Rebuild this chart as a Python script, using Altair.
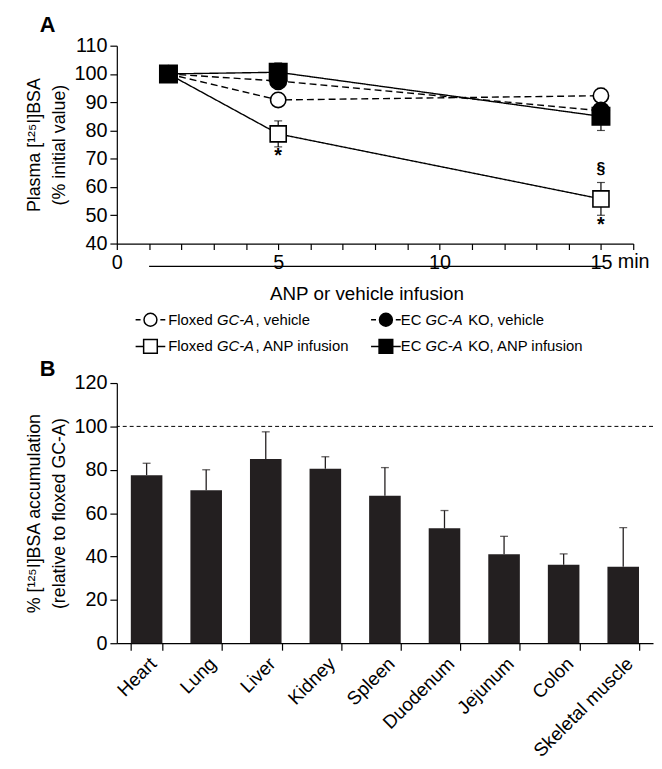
import altair as alt
import pandas as pd

# ---------------- Panel A data ----------------
times = [1.6, 5, 15]
group_names = ["Floxed GC-A, vehicle", "Floxed GC-A, ANP infusion",
               "EC GC-A KO, vehicle", "EC GC-A KO, ANP infusion"]
flox_vehicle = [100, 90.8, 92.3]
flox_vehicle_err = [0, 1.0, 2.6]
flox_anp = [100, 78.8, 55.8]
flox_anp_err = [0, 4.6, 5.8]
ko_vehicle = [100, 97.5, 87.0]
ko_vehicle_err = [0, 1.5, 2.0]
ko_anp = [100, 100.6, 85.0]
ko_anp_err = [0, 3.3, 5.0]

star_t = [5, 15]
star_v = [71.0, 46.5]
section_t = [15]
section_v = [66.5]

infusion_start = 1.0
infusion_end = 15.1
infusion_label = "ANP or vehicle infusion"
x_ticks = list(range(0, 17))
y_ticks_a = list(range(40, 111, 10))

# ---------------- Panel B data ----------------
organs = ["Heart", "Lung", "Liver", "Kidney", "Spleen", "Duodenum",
          "Jejunum", "Colon", "Skeletal muscle"]
accum = [77.5, 70.5, 85.0, 80.5, 68.0, 53.0, 41.0, 36.2, 35.3]
accum_err = [5.5, 9.5, 12.5, 5.5, 13.0, 8.2, 8.3, 5.0, 18.0]
y_ticks_b = list(range(0, 121, 20))

FONT = "Liberation Sans"
WA, HA = 522, 200
WB, HB = 542, 263
TICKFS = 20
TITLEFS = 18

# ---------------- build panel A ----------------
series = [flox_vehicle, flox_anp, ko_vehicle, ko_anp]
errs = [flox_vehicle_err, flox_anp_err, ko_vehicle_err, ko_anp_err]
rows = []
for g, vals, es in zip(group_names, series, errs):
    for t, v, e in zip(times, vals, es):
        rows.append({"group": g, "t": t, "v": v, "lo": v - e, "hi": v + e, "e": e})
dfA = pd.DataFrame(rows)

axis_x_a = alt.Axis(values=x_ticks, title=None, tickSize=6, labelOverlap=False,
                    labelExpr="datum.value % 5 == 0 ? datum.label : ''",
                    labelPadding=3, labelFlush=False)
axis_y_a = alt.Axis(values=y_ticks_a, tickSize=7, labelPadding=3, titlePadding=6,
                    labelOverlap=False, titleLineHeight=25,
                    title=["Plasma [\u00b9\u00b2\u2075I]BSA", "(% initial value)"])
sx = alt.Scale(domain=[0, 16], nice=False)
sy = alt.Scale(domain=[40, 110], nice=False, zero=False)

dash = alt.StrokeDash("group:N", legend=None,
                      scale=alt.Scale(domain=group_names,
                                      range=[[7, 4], [1, 0], [7, 4], [1, 0]]))
baseA = alt.Chart(dfA)
lines = baseA.mark_line(color="black", strokeWidth=1.4).encode(
    x=alt.X("t:Q", scale=sx, axis=axis_x_a),
    y=alt.Y("v:Q", scale=sy, axis=axis_y_a),
    strokeDash=dash, detail="group:N")

errA = baseA.transform_filter("datum.e > 0")
err_rules = errA.mark_rule(color="black", strokeWidth=1.2).encode(
    x=alt.X("t:Q", axis=axis_x_a), y=alt.Y("lo:Q", axis=axis_y_a), y2="hi:Q")
err_caps = errA.transform_fold(["lo", "hi"], as_=["end", "ev"]).mark_tick(
    color="black", thickness=1.2, size=8, orient="horizontal").encode(
    x=alt.X("t:Q", axis=axis_x_a), y=alt.Y("ev:Q", axis=axis_y_a))

points = baseA.mark_point(stroke="black", strokeWidth=1.6, opacity=1, fillOpacity=1).encode(
    x=alt.X("t:Q", axis=axis_x_a), y=alt.Y("v:Q", axis=axis_y_a),
    shape=alt.Shape("group:N", legend=None,
                    scale=alt.Scale(domain=group_names,
                                    range=["circle", "square", "circle", "square"])),
    fill=alt.Fill("group:N", legend=None,
                  scale=alt.Scale(domain=group_names,
                                  range=["white", "white", "black", "black"])),
    size=alt.Size("group:N", legend=None,
                  scale=alt.Scale(domain=group_names, range=[240, 310, 240, 310])),
)

stars = alt.Chart(pd.DataFrame({"t": star_t, "v": star_v})).mark_text(
    text="*", font=FONT, fontSize=20, fontWeight="bold", baseline="middle").encode(
    x=alt.X("t:Q", axis=axis_x_a), y=alt.Y("v:Q", axis=axis_y_a))
section = alt.Chart(pd.DataFrame({"t": section_t, "v": section_v})).mark_text(
    text="\u00a7", font=FONT, fontSize=16, fontWeight="bold", baseline="middle").encode(
    x=alt.X("t:Q", axis=axis_x_a), y=alt.Y("v:Q", axis=axis_y_a))

one = pd.DataFrame({"k": [0]})
min_text = alt.Chart(pd.DataFrame({"t": [15]})).mark_text(
    text="min", font=FONT, fontSize=TICKFS, align="left", baseline="top", dx=17).encode(
    x=alt.X("t:Q", axis=axis_x_a), y=alt.value(HA + 9))
inf_line = alt.Chart(pd.DataFrame({"a": [infusion_start], "b": [infusion_end]})).mark_rule(
    color="black", strokeWidth=1.2).encode(
    x=alt.X("a:Q", axis=axis_x_a), x2="b:Q", y=alt.value(HA + 23))
inf_text = alt.Chart(pd.DataFrame({"a": [(infusion_start + infusion_end) / 2 - 0.3]})).mark_text(
    text=infusion_label, font=FONT, fontSize=19, baseline="middle").encode(
    x=alt.X("a:Q", axis=axis_x_a), y=alt.value(HA + 51))
label_A = alt.Chart(one).mark_text(text="A", font=FONT, fontSize=22, fontWeight="bold",
                                   baseline="middle").encode(x=alt.value(-70), y=alt.value(-21))

# manual legend with italic gene names
CW = {" ": 278, "F": 611, "l": 222, "o": 556, "x": 500, "e": 556, "d": 556, "G": 778,
      "C": 722, "-": 333, "A": 667, ",": 278, "v": 500, "h": 556, "i": 222, "c": 500,
      "N": 722, "P": 667, "n": 556, "f": 278, "u": 556, "s": 500, "E": 667, "K": 667,
      "O": 778}
LFS = 15


def tw(s):
    return sum(CW.get(ch, 556) for ch in s) / 1000 * LFS


legend_specs = [
    (34, HA + 77, 18, "circle", "white", True, [("Floxed ", False), ("GC-A", True), (", vehicle", False)]),
    (34, HA + 104, 18, "square", "white", False, [("Floxed ", False), ("GC-A", True), (", ANP infusion", False)]),
    (272, HA + 77, 15, "circle", "black", True, [("EC ", False), ("GC-A", True), (" KO, vehicle", False)]),
    (272, HA + 104, 15, "square", "black", False, [("EC ", False), ("GC-A", True), (" KO, ANP infusion", False)]),
]
legend_layers = []
for cx, cy, off, shp, fl, dashed, parts in legend_specs:
    legend_layers.append(alt.Chart(one).mark_rule(
        color="black", strokeWidth=1.4, strokeDash=[5, 20] if dashed else [1, 0]).encode(
        x=alt.value(cx - 15), x2=alt.value(cx + 15), y=alt.value(cy)))
    legend_layers.append(alt.Chart(one).mark_point(
        shape=shp, fill=fl, stroke="black", strokeWidth=1.5, opacity=1, fillOpacity=1,
        size=170 if shp == "circle" else 190).encode(x=alt.value(cx), y=alt.value(cy)))
    px = cx + off
    for txt, it in parts:
        lead = len(txt) - len(txt.lstrip(" "))
        shown = txt.lstrip(" ")
        legend_layers.append(alt.Chart(one).mark_text(
            text=shown, font=FONT, fontSize=LFS, align="left", baseline="middle",
            fontStyle="italic" if it else "normal").encode(
            x=alt.value(px + tw(" " * lead)), y=alt.value(cy)))
        px += tw(txt) + (1.5 if it else 0)

chartA = alt.layer(lines, err_rules, err_caps, points, stars, section, min_text,
                   inf_line, inf_text, label_A, *legend_layers).properties(width=WA, height=HA)

# ---------------- build panel B ----------------
dfB = pd.DataFrame({"organ": organs, "val": accum,
                    "top": [a + e for a, e in zip(accum, accum_err)]})
axis_x_b = alt.Axis(title=None, labelAngle=-45, tickBand="extent", tickSize=7,
                    labelPadding=4, labelFontSize=19, labelOverlap=False)
axis_y_b = alt.Axis(values=y_ticks_b, tickSize=7, labelPadding=3, titlePadding=6,
                    labelOverlap=False, titleLineHeight=25,
                    title=["% [\u00b9\u00b2\u2075I]BSA accumulation",
                           "(relative to floxed GC-A)"])
xB = alt.X("organ:N", sort=organs,
           scale=alt.Scale(paddingInner=0.47, paddingOuter=0.235), axis=axis_x_b)
yB = alt.Y("val:Q", scale=alt.Scale(domain=[0, 120], nice=False), axis=axis_y_b)
baseB = alt.Chart(dfB)
bars = baseB.mark_bar(color="#231f20").encode(x=xB, y=yB)
b_err = baseB.mark_rule(color="#231f20", strokeWidth=1.3).encode(
    x=alt.X("organ:N", sort=organs, axis=axis_x_b), y=alt.Y("val:Q", axis=axis_y_b), y2="top:Q")
b_cap = baseB.mark_tick(color="#231f20", thickness=1.3, size=8).encode(
    x=alt.X("organ:N", sort=organs, axis=axis_x_b), y=alt.Y("top:Q", axis=axis_y_b))
ref100 = alt.Chart(one).mark_rule(color="black", strokeWidth=1, strokeDash=[4, 3]).encode(
    y=alt.datum(100))
label_B = alt.Chart(one).mark_text(text="B", font=FONT, fontSize=22, fontWeight="bold",
                                   baseline="middle").encode(x=alt.value(-70), y=alt.value(-14))

chartB = alt.layer(bars, b_err, b_cap, ref100, label_B).properties(width=WB, height=HB)

chart = alt.vconcat(chartA, chartB, spacing=2).properties(
    padding={"left": 17, "top": 2, "right": 0, "bottom": 0}
).configure_view(stroke=None).configure_axis(
    grid=False, domainColor="black", tickColor="black", labelColor="black",
    titleColor="black", labelFont=FONT, titleFont=FONT, labelFontSize=TICKFS,
    titleFontSize=TITLEFS, titleFontWeight="normal", domainWidth=1.2, tickWidth=1.2,
    labelOverlap=False
)

chart.save("out.html", embed_options={"renderer": "svg", "actions": False})
